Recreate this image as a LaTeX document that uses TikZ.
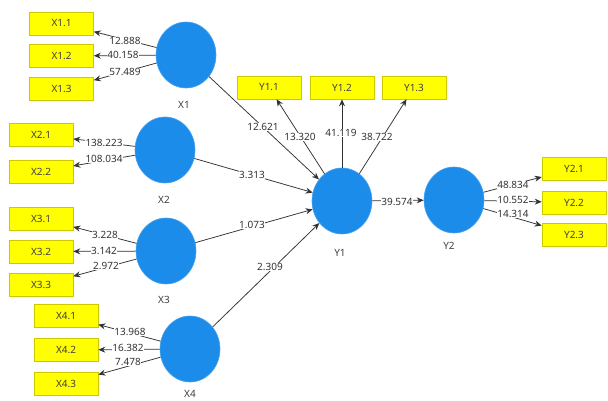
\documentclass[tikz,border=0pt]{standalone}
\usepackage{fontspec}
\setmainfont{Noto Sans}
\usetikzlibrary{shapes.geometric,arrows.meta}
\definecolor{lvblue}{RGB}{28,140,235}
\definecolor{boxyellow}{RGB}{255,255,0}
\definecolor{boxedge}{RGB}{205,200,0}
\definecolor{linegray}{RGB}{50,50,50}
\tikzset{
  x=1pt,y=-1pt,
  latent/.style={ellipse,fill=lvblue,draw=lvblue!80!white,line width=0.6pt,inner sep=0pt,minimum width=60pt,minimum height=66pt},
  indicator/.style={rectangle,fill=boxyellow,draw=boxedge,line width=0.6pt,minimum width=64pt,minimum height=23pt,inner sep=0pt,font=\fontsize{10}{12}\selectfont,text=black!75},
  lvname/.style={font=\fontsize{10}{12}\selectfont,text=black!75},
  val/.style={fill=white,inner sep=0.5pt,font=\fontsize{10}{12}\selectfont,text=black!80},
  conn/.style={draw=linegray,line width=0.75pt,-{Stealth[length=7pt,width=6pt]}},
}
\begin{document}
\begin{tikzpicture}
\useasboundingbox (0,0) rectangle (608,401);
\fill[white] (0,0) rectangle (608,401);
% latent variables
\node[latent] (X1) at (186,55) {};
\node[latent] (X2) at (165,150) {};
\node[latent] (X3) at (166,251) {};
\node[latent] (X4) at (190,349) {};
\node[latent] (Y1) at (342,201) {};
\node[latent] (Y2) at (454,200) {};
\node[lvname] (lX1) at (184,105) {X1};
\node[lvname] (lX2) at (164,200) {X2};
\node[lvname] (lX3) at (164,300) {X3};
\node[lvname] (lX4) at (190,394) {X4};
\node[lvname] (lY1) at (340,253) {Y1};
\node[lvname] (lY2) at (449,246) {Y2};
% indicators
\node[indicator] (x11) at (61.5,23.5) {X1.1};
\node[indicator] (x12) at (61.5,56) {X1.2};
\node[indicator] (x13) at (61.5,89) {X1.3};
\node[indicator] (x21) at (41,135) {X2.1};
\node[indicator] (x22) at (41,171.5) {X2.2};
\node[indicator] (x31) at (41,218.5) {X3.1};
\node[indicator] (x32) at (41,251.5) {X3.2};
\node[indicator] (x33) at (41,285) {X3.3};
\node[indicator] (x41) at (66,316) {X4.1};
\node[indicator] (x42) at (66,350) {X4.2};
\node[indicator] (x43) at (66,383.5) {X4.3};
\node[indicator] (y11) at (269,87.5) {Y1.1};
\node[indicator] (y12) at (342,87.5) {Y1.2};
\node[indicator] (y13) at (414,87.5) {Y1.3};
\node[indicator] (y21) at (574,168.5) {Y2.1};
\node[indicator] (y22) at (574,202.5) {Y2.2};
\node[indicator] (y23) at (574,235) {Y2.3};
% connectors
\draw[conn] (X1) -- (x11);
\draw[conn] (X1) -- (x12);
\draw[conn] (X1) -- (x13);
\draw[conn] (X2) -- (x21);
\draw[conn] (X2) -- (x22);
\draw[conn] (X3) -- (x31);
\draw[conn] (X3) -- (x32);
\draw[conn] (X3) -- (x33);
\draw[conn] (X4) -- (x41);
\draw[conn] (X4) -- (x42);
\draw[conn] (X4) -- (x43);
\draw[conn] (Y1) -- (y11);
\draw[conn] (Y1) -- (y12);
\draw[conn] (Y1) -- (y13);
\draw[conn] (Y2) -- (y21);
\draw[conn] (Y2) -- (y22);
\draw[conn] (Y2) -- (y23);
\draw[conn] (X1) -- (Y1);
\draw[conn] (X2) -- (Y1);
\draw[conn] (X3) -- (Y1);
\draw[conn] (X4) -- (Y1);
\draw[conn] (Y1) -- (Y2);
% values
\node[val] (v1) at (125,41) {12.888};
\node[val] (v2) at (123,55) {40.158};
\node[val] (v3) at (125,72) {57.489};
\node[val] (v4) at (104,143) {138.223};
\node[val] (v5) at (104,159) {108.034};
\node[val] (v6) at (105,235) {3.228};
\node[val] (v7) at (104,251) {3.142};
\node[val] (v8) at (106,266) {2.972};
\node[val] (v9) at (130,332) {13.968};
\node[val] (v10) at (128,348) {16.382};
\node[val] (v11) at (128,362) {7.478};
\node[val] (v12) at (263,127) {12.621};
\node[val] (v13) at (300,137) {13.320};
\node[val] (v14) at (341,133) {41.119};
\node[val] (v15) at (377,137) {38.722};
\node[val] (v16) at (252,175) {3.313};
\node[val] (v17) at (252,225) {1.073};
\node[val] (v18) at (270,267) {2.309};
\node[val] (v19) at (397,202) {39.574};
\node[val] (v20) at (513,185) {48.834};
\node[val] (v21) at (513,200) {10.552};
\node[val] (v22) at (513,214) {14.314};
\end{tikzpicture}
\end{document}
